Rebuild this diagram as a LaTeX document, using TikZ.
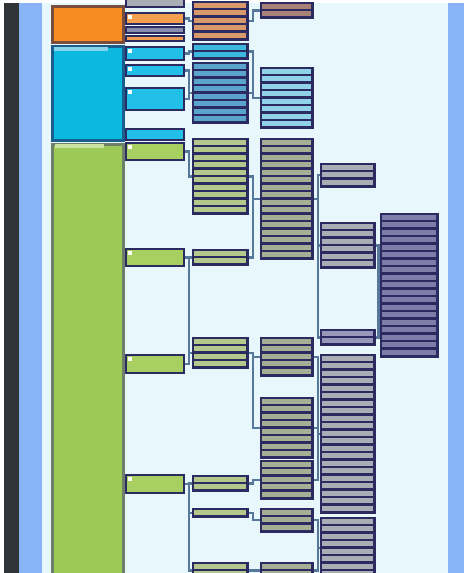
\documentclass[tikz,border=0pt]{standalone}
\usetikzlibrary{calc,backgrounds}
\definecolor{railink}{HTML}{2F3437}
\definecolor{railblue}{HTML}{8AB4F8}
\definecolor{canvas}{HTML}{E8F7FC}
\definecolor{navy}{HTML}{2B2B62}
\definecolor{linkline}{HTML}{56789A}
\definecolor{orroot}{HTML}{F68D22}
\definecolor{orline}{HTML}{7A4E3E}
\definecolor{cyroot}{HTML}{0BB8E0}
\definecolor{cyline}{HTML}{1B5E8E}
\definecolor{grroot}{HTML}{9DC957}
\definecolor{grline}{HTML}{6B7F6A}
\definecolor{orlead}{HTML}{F4A050}
\definecolor{cylead}{HTML}{22C0E8}
\definecolor{grlead}{HTML}{A8CF62}
\definecolor{orstrip}{HTML}{D89A6A}
\definecolor{brstrip}{HTML}{A88278}
\definecolor{cystrip}{HTML}{3CB8DE}
\definecolor{bluestrip}{HTML}{5AA4CE}
\definecolor{skystrip}{HTML}{90D2E8}
\definecolor{olivestrip}{HTML}{B4C88C}
\definecolor{sagestrip}{HTML}{A6AE96}
\definecolor{greystrip}{HTML}{ABADB6}
\definecolor{plumstrip}{HTML}{7E7CA8}
\definecolor{mauvelead}{HTML}{8A8CAC}
\def\pitch{7.5}
\tikzset{
 root/.style={draw,line width=3pt,anchor=north west,inner sep=0pt,minimum width=71pt},
 lead/.style={draw=navy,line width=2pt,anchor=north west,inner sep=0pt,minimum width=58pt},
 stackbox/.style={draw=navy,fill=navy,line width=1pt,anchor=north west,inner sep=0pt},
 link/.style={draw=linkline,line width=2.2pt},
}
% one bright first-level bar with its little icon
\newcommand{\leadbar}[4]{%
  \node[lead,fill=#4,minimum height=#3pt] (#1) at (125,#2) {};
  \fill[white] ($(#1.north west)+(3,3)$) rectangle ++(4,4);
}
% a stack of text rows: name, left, top, width, rows, colour
\newcommand{\barstack}[6]{%
  \node[stackbox,minimum width=#4pt,minimum height={(#5*\pitch+1)*1pt}] (#1) at (#2,#3) {};
  \foreach \k in {1,...,#5}
    \fill[#6] ($(#1.north west)+(2,{1.8+(\k-1)*\pitch})$) rectangle ++({#4-4},5);
}

\begin{document}
\begin{tikzpicture}[x=1pt,y=-1pt]
\useasboundingbox (0,0) rectangle (464,573);
\clip (0,0) rectangle (464,573);

\begin{scope}[on background layer]
  \fill[white] (0,0) rectangle (464,573);
  \fill[railink] (4,3) rectangle (19,573);
  \fill[railblue] (19,3) rectangle (42,573);
  \fill[canvas] (42,3) rectangle (448,573);
  \fill[railblue] (448,3) rectangle (464,573);
\end{scope}

% roots
\node[root,draw=orline,fill=orroot,minimum height=36pt] (orange) at (50.5,4.5) {};
\node[root,draw=cyline,fill=cyroot,minimum height=94pt] (cyan) at (50.5,44.5) {};
\node[root,draw=grline,fill=grroot,minimum height=440pt] (green) at (50.5,142.5) {};
\fill[cystrip!60!white] (54,47) rectangle (108,51);
\fill[grlead!60!white] (55,144) rectangle (104,148);

% first level
\node[lead,fill=greystrip,minimum height=9pt] (o2top) at (125,-3) {};
\leadbar{o2a}{12}{11}{orlead}
\node[lead,fill=mauvelead,minimum height=6pt] (o2b) at (125,26) {};
\node[lead,fill=orlead,minimum height=5pt] (o2c) at (125,35) {};
\leadbar{c2a}{46}{13}{cylead}
\leadbar{c2b}{64}{11}{cylead}
\leadbar{c2c}{87}{22}{cylead}
\node[lead,fill=cylead,minimum height=11pt] (c2d) at (125,128) {};
\leadbar{g2a}{142}{17}{grlead}
\leadbar{g2b}{248}{17}{grlead}
\leadbar{g2c}{354}{18}{grlead}
\leadbar{g2d}{474}{18}{grlead}

% second level
\barstack{o3}{192}{1}{56}{5}{orstrip}
\barstack{c3a}{192}{43}{56}{2}{cystrip}
\barstack{c3b}{192}{62}{56}{8}{bluestrip}
\barstack{g3a}{192}{138}{56}{10}{olivestrip}
\barstack{g3b}{192}{249}{56}{2}{olivestrip}
\barstack{g3c}{192}{337}{56}{4}{olivestrip}
\barstack{g3d}{192}{475}{56}{2}{olivestrip}
\barstack{g3e}{192}{508}{56}{1}{olivestrip}
\barstack{g3f}{192}{562}{56}{2}{olivestrip}

% third level
\barstack{o4}{260}{2}{53}{2}{brstrip}
\barstack{c4}{260}{67}{53}{8}{skystrip}
\barstack{g4a}{260}{138}{53}{16}{sagestrip}
\barstack{g4b}{260}{337}{53}{5}{sagestrip}
\barstack{g4c}{260}{397}{53}{8}{sagestrip}
\barstack{g4d}{260}{460}{53}{5}{sagestrip}
\barstack{g4e}{260}{508}{53}{3}{sagestrip}
\barstack{g4f}{260}{562}{53}{2}{sagestrip}

% fourth level
\barstack{g5a}{320}{163}{55}{3}{greystrip}
\barstack{g5b}{320}{222}{55}{6}{greystrip}
\barstack{g5c}{320}{329}{55}{2}{plumstrip!80!white}
\barstack{g5d}{320}{354}{55}{21}{greystrip}
\barstack{g5e}{320}{517}{55}{8}{greystrip}

% fifth level
\barstack{g6}{380}{213}{58}{19}{plumstrip}

\begin{scope}[on background layer]
  \draw[link] (o2a.east) -- ++(4,0) |- (o3.west);
  \draw[link] (o3.east) -- ++(4,0) |- (o4.west);
  \draw[link] (c2a.east) -- ++(4,0) |- (c3a.west);
  \draw[link] (c2b.east) -- ++(4,0) |- (c3b.west);
  \draw[link] (c2c.east) -- ++(4,0) |- (c3b.west);
  \draw[link] (c3a.east) -- ++(4,0) |- (c4.west);
  \draw[link] (c3b.east) -- ++(4,0) |- (c4.west);
  \draw[link] (g2a.east) -- ++(4,0) |- (g3a.west);
  \draw[link] (g2b.east) -- ++(4,0) |- (g3b.west);
  \draw[link] (g2b.east) -- ++(4,0) |- (g3c.west);
  \draw[link] (g2c.east) -- ++(4,0) |- (g3c.west);
  \draw[link] (g2d.east) -- ++(4,0) |- (g3d.west);
  \draw[link] (g2d.east) -- ++(4,0) |- (g3e.west);
  \draw[link] (g2d.east) -- ++(4,0) |- (g3f.west);
  \draw[link] (g3a.east) -- ++(4,0) |- (g4a.west);
  \draw[link] (g3b.east) -- ++(4,0) |- (g4a.west);
  \draw[link] (g3c.east) -- ++(4,0) |- (g4b.west);
  \draw[link] (g3c.east) -- ++(4,0) |- (g4c.west);
  \draw[link] (g3d.east) -- ++(4,0) |- (g4d.west);
  \draw[link] (g3e.east) -- ++(4,0) |- (g4e.west);
  \draw[link] (g3f.east) -- ++(4,0) |- (g4f.west);
  \draw[link] (g4a.east) -- ++(4,0) |- (g5a.west);
  \draw[link] (g4a.east) -- ++(4,0) |- (g5b.west);
  \draw[link] (g4a.east) -- ++(4,0) |- (g5c.west);
  \draw[link] (g4b.east) -- ++(4,0) |- (g5d.west);
  \draw[link] (g4c.east) -- ++(4,0) |- (g5d.west);
  \draw[link] (g4d.east) -- ++(4,0) |- (g5d.west);
  \draw[link] (g4e.east) -- ++(4,0) |- (g5e.west);
  \draw[link] (g4f.east) -- ++(4,0) |- (g5e.west);
  \draw[link] (g5b.east) -- ++(2.5,0) |- (g6.west);
  \draw[link] (g5c.east) -- ++(2.5,0) |- (g6.west);
\end{scope}
\end{tikzpicture}
\end{document}
